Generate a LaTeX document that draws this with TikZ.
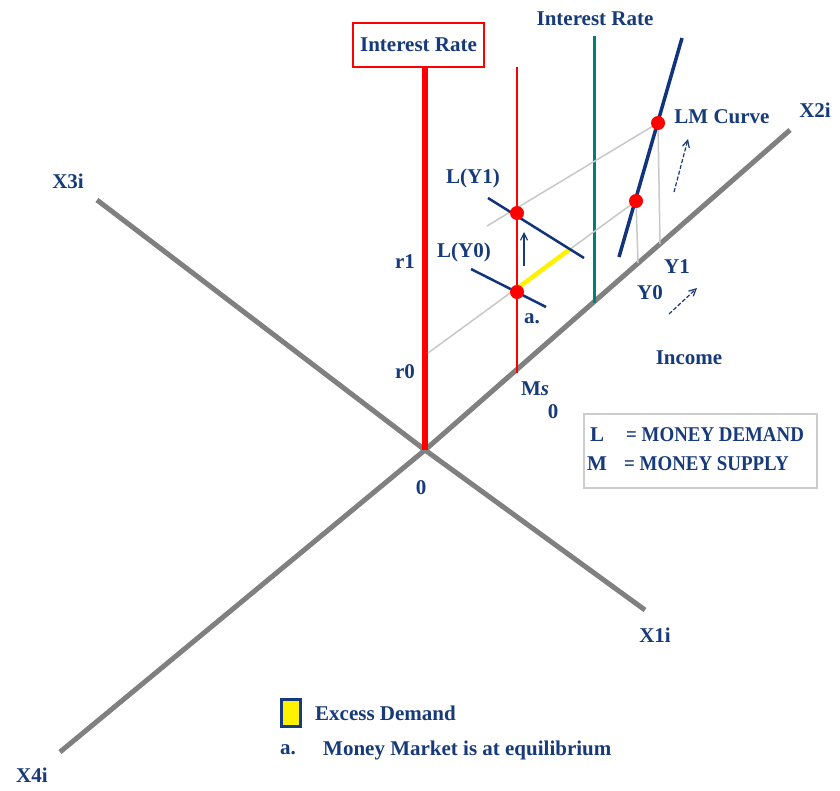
\documentclass[tikz,border=0pt]{standalone}
\usepackage{fontspec}
\setmainfont{Liberation Serif}
\usetikzlibrary{arrows.meta}
\definecolor{navy}{RGB}{22,58,122}
\definecolor{lmblue}{RGB}{18,52,125}
\definecolor{axisgray}{RGB}{128,128,128}
\definecolor{guide}{RGB}{200,200,200}
\definecolor{tealc}{RGB}{0,128,115}
\definecolor{boxgray}{RGB}{205,205,205}
\begin{document}
\begin{tikzpicture}[x=1pt,y=-1pt,
  lbl/.style={text=navy,font=\fontsize{21}{24}\selectfont\bfseries,inner sep=0pt},
  caps/.style={text=navy,font=\fontsize{21}{24}\selectfont\bfseries,inner sep=0pt},
  gaxis/.style={draw=axisgray,line width=5pt},
  guideline/.style={draw=guide,line width=1.5pt},
  demand/.style={draw=lmblue,line width=2.5pt},
  eqdot/.style={circle,fill=red,inner sep=0pt,minimum size=14pt},
  smallarrow/.style={draw=navy,line width=1.2pt,-{Straight Barb[length=7pt,width=7pt]}},
  dasharrow/.style={smallarrow,dash pattern=on 4pt off 2pt}]
\useasboundingbox (0,0) rectangle (840,790);
\fill[white] (0,0) rectangle (840,790);

% axes
\coordinate (O) at (425,450);
\coordinate (X1end) at (645,610);
\coordinate (X2end) at (790,130);
\coordinate (X3end) at (97,200);
\coordinate (X4end) at (60,752);
\draw[gaxis] (X3end) -- (O) -- (X1end);
\draw[gaxis] (X4end) -- (O) -- (X2end);

% axis labels
\node[lbl] (x1) at (655,635) {X1i};
\node[lbl] (x2) at (815,110) {X2i};
\node[lbl] (x3) at (68,181) {X3i};
\node[lbl] (x4) at (32,775) {X4i};
\node[lbl] (zero) at (421,488) {0};

% interest rate axis
\node[draw=red,line width=1.5pt,lbl,minimum width=131pt,minimum height=44pt] (irbox) at (418.5,45) {Interest Rate};
\draw[red,line width=6pt] (O) -- (O |- irbox.south);
\node[lbl] (r1) at (405,262) {r1};
\node[lbl] (r0) at (405,372) {r0};

% money supply
\coordinate (MsTop) at (517,67);
\coordinate (MsBot) at (517,373);
\draw[red,line width=1.8pt] (MsTop) -- (MsBot);
\node[lbl] (ms) at (535,389) {M\textit{s}};
\node[lbl] (ms0) at (553,412) {0};

% second interest rate axis
\coordinate (TTop) at (594,36);
\coordinate (TBot) at (594,303);
\draw[tealc,line width=3pt] (TTop) -- (TBot);
\node[lbl] (ir2) at (595,19) {Interest Rate};

% guide lines
\coordinate (R0) at (428,353);
\coordinate (G1s) at (487,226);
\coordinate (E0) at (517,292);
\coordinate (E1) at (517,213);
\coordinate (P0) at (636,201);
\coordinate (P1) at (658,123);
\coordinate (Y0b) at (638,263);
\coordinate (Y1b) at (660,244);
\draw[guideline] (R0) -- (P0);
\draw[guideline] (G1s) -- (P1);
\draw[guideline] (P0) -- (Y0b);
\draw[guideline] (P1) -- (Y1b);

% excess demand
\coordinate (ExA) at (519,287);
\coordinate (ExB) at (570,249);
\draw[yellow,line width=4.5pt] (ExA) -- (ExB);

% demand curves
\coordinate (LY1a) at (488,198);
\coordinate (LY1b) at (584,258);
\coordinate (LY0a) at (471,269);
\coordinate (LY0b) at (546,307);
\draw[demand] (LY1a) -- (LY1b);
\draw[demand] (LY0a) -- (LY0b);
\node[lbl] (ly1) at (473,178) {L(Y1)};
\node[lbl] (ly0) at (464,252) {L(Y0)};

% LM curve
\coordinate (LMa) at (619,257);
\coordinate (LMb) at (682,38);
\draw[lmblue,line width=3.5pt] (LMa) -- (LMb);
\node[lbl] (lm) at (722,117) {LM Curve};

% dots
\node[eqdot] (d1) at (E1) {};
\node[eqdot] (d0) at (E0) {};
\node[eqdot] (d2) at (P0) {};
\node[eqdot] (d3) at (P1) {};
\node[lbl] (alab) at (532,319) {a.};

% small arrows
\coordinate (UAa) at (524,266);
\coordinate (UAb) at (524,232);
\draw[smallarrow] (UAa) -- (UAb);
\coordinate (YAa) at (669,314);
\coordinate (YAb) at (697,288);
\draw[dasharrow] (YAa) -- (YAb);
\coordinate (LAa) at (674,192);
\coordinate (LAb) at (688,139);
\draw[dasharrow] (LAa) -- (LAb);

% income labels
\node[lbl] (y1) at (677,267) {Y1};
\node[lbl] (y0) at (650,293) {Y0};
\node[lbl] (inc) at (689,358) {Income};

% legend box
\node[draw=boxgray,line width=2pt,minimum width=233pt,minimum height=74pt,inner sep=0pt] (legend) at (700.5,451) {};
\node[caps] (lL) at (597,435) {L};
\node[caps,anchor=west] (lLt) at (626,435) {\scalebox{0.9}[1]{= MONEY DEMAND}};
\node[caps] (lM) at (597,464) {M};
\node[caps,anchor=west] (lMt) at (624,464) {\scalebox{0.9}[1]{= MONEY SUPPLY}};

% bottom legend
\node[draw=navy,fill=yellow,line width=2.5pt,minimum width=19pt,minimum height=27pt,inner sep=0pt] (ybox) at (291,713) {};
\node[lbl,anchor=west] (exd) at (315,713) {Excess Demand};
\node[lbl] (la) at (288,750) {a.};
\node[lbl,anchor=west] (mm) at (323,750) {Money Market is at equilibrium};
\end{tikzpicture}
\end{document}
